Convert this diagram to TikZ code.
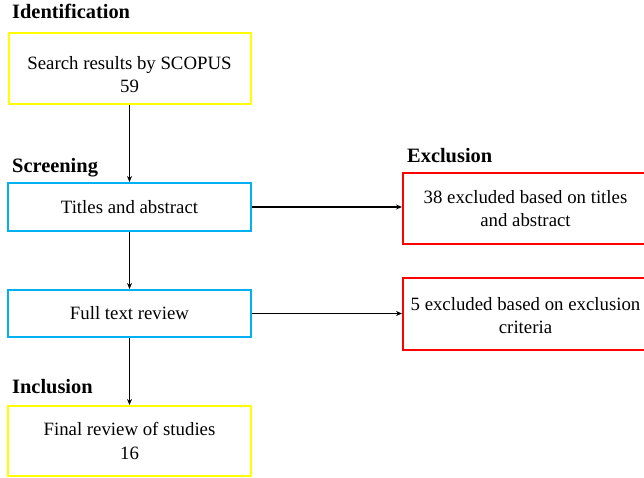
\documentclass[tikz,border=0pt]{standalone}
\usepackage{fontspec}
\setmainfont{Liberation Serif}
\usetikzlibrary{arrows.meta}
\definecolor{boxyellow}{RGB}{255,255,0}
\definecolor{boxblue}{RGB}{0,176,240}
\definecolor{boxred}{RGB}{255,0,0}
\begin{document}
\begin{tikzpicture}[x=1pt,y=-1pt,
  box/.style={draw, line width=2pt, minimum width=#1, inner sep=2pt, align=center,
    font=\fontsize{18.8}{23.5}\selectfont},
  heading/.style={anchor=base west, inner sep=0pt, font=\fontsize{20.4}{24}\selectfont\bfseries},
  conn/.style={line width=1.8pt, -{Stealth[length=6pt,width=5pt]}}]
\useasboundingbox (0,0) rectangle (644,478);
\node[box=242pt, draw=boxyellow, minimum height=71pt, text height=49pt] (y1) at (129.5,68.5) {Search results by SCOPUS\\59};
\node[box=243pt, draw=boxblue, minimum height=48pt] (b1) at (129.5,207) {Titles and abstract};
\node[box=243pt, draw=boxblue, minimum height=47pt] (b2) at (129.5,313.5) {Full text review};
\node[box=243pt, draw=boxyellow, minimum height=70pt] (y2) at (129.5,441) {Final review of studies\\16};
\node[box=245pt, draw=boxred, minimum height=71pt] (r1) at (525.5,208.5) {38 excluded based on titles\\and abstract};
\node[box=245pt, draw=boxred, minimum height=72pt, text height=39.5pt] (r2) at (525.5,314) {5 excluded based on exclusion\\criteria};
\node[heading] (h1) at (12,19) {Identification};
\node[heading] (h2) at (12,173) {Screening};
\node[heading] (h3) at (407,163) {Exclusion};
\node[heading] (h4) at (12,393) {Inclusion};
\draw[conn] (y1.south) -- (b1.north);
\draw[conn] (b1.south) -- (b2.north);
\draw[conn] (b2.south) -- (y2.north);
\draw[conn] (b1.east) -- (b1.east -| r1.west);
\draw[conn] (b2.east) -- (b2.east -| r2.west);
\end{tikzpicture}
\end{document}
